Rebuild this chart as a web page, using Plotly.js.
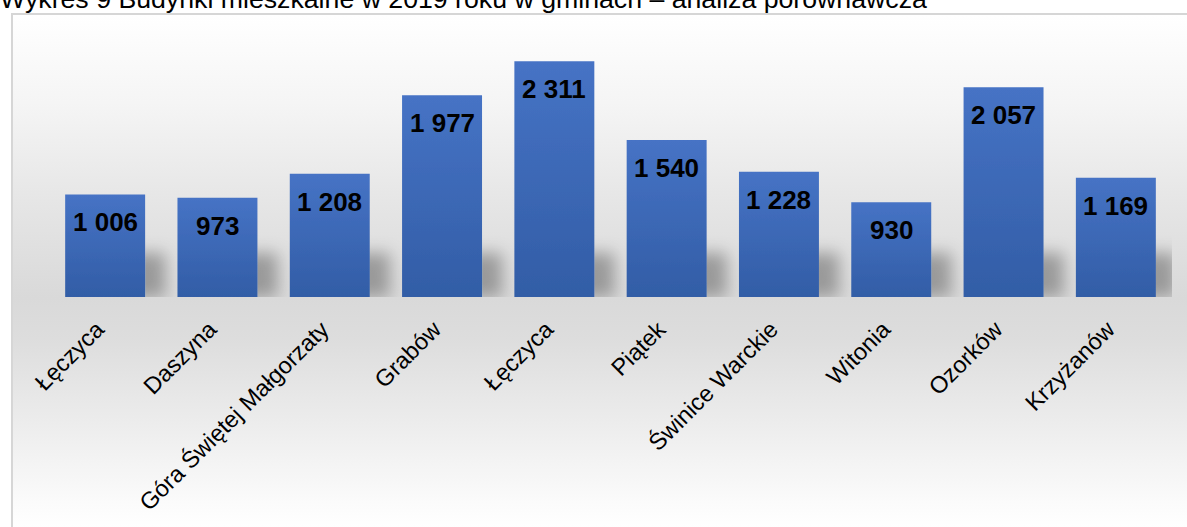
<!DOCTYPE html>
<html><head><meta charset="utf-8">
<script src="https://cdn.plot.ly/plotly-3.0.1.min.js"></script>
<style>
html,body{margin:0;padding:0;width:1187px;height:527px;overflow:hidden;background:#fff;}
#frame{position:absolute;left:11px;top:13px;width:1200px;height:514px;border-left:2px solid #d6d6d6;border-top:2px solid #d6d6d6;
background:linear-gradient(to bottom,#ffffff 0%,#f5f5f5 17%,#e6e6e6 36%,#d9d9d9 55%,#dddddd 63%,#ebebeb 78%,#fbfbfb 95%,#ffffff 100%);}
#chart{position:absolute;left:0;top:0;width:1187px;height:527px;}
</style></head>
<body>
<div id="frame"></div>
<div id="chart"></div>
<script>
var titleText = 'Wykres 9 Budynki mieszkalne w 2019 roku w gminach – analiza porównawcza';
var categories = ['Łęczyca','Daszyna','Góra Świętej Małgorzaty','Grabów','Łęczyca','Piątek','Świnice Warckie','Witonia','Ozorków','Krzyżanów'];
var values = [1006, 973, 1208, 1977, 2311, 1540, 1228, 930, 2057, 1169];

function fmt(v){ return String(v).replace(/\B(?=(\d{3})+(?!\d))/g, ' '); }
var positions = categories.map(function(c,i){return i;});
var FONT = 'Liberation Sans, Arial, sans-serif';
var LABEL_NUDGE = 0.07; // small left nudge of rotated tick labels

var trace = {
  type:'bar', x: positions, y: values,
  marker:{color:'#3c68b6', line:{width:0}},
  hoverinfo:'none'
};

var annotations = values.map(function(v,i){
  return {x: positions[i], y: v, xref:'x', yref:'y', text: fmt(v), showarrow:false,
    yanchor:'middle', yshift:-28, font:{family:FONT, size:26, color:'#000', weight:'bold'}};
});

var layout = {
  width:1187, height:527,
  margin:{l:49, r:15, t:42, b:230},
  paper_bgcolor:'rgba(0,0,0,0)', plot_bgcolor:'rgba(0,0,0,0)',
  title:{text:titleText, font:{family:FONT, size:26.7, color:'#000'}, x:0, xref:'container', xanchor:'left',
         y:1-8/527, yref:'container', yanchor:'bottom', pad:{t:0,b:0,l:0,r:0}},
  xaxis:{range:[-0.5, categories.length-0.5], tickvals:positions.map(function(p){return p-LABEL_NUDGE;}), ticktext:categories, tickangle:-45,
         tickfont:{family:FONT, size:23.5, color:'#000'}, showgrid:false, zeroline:false, showline:false,
         ticks:'', ticklabelstandoff:13, fixedrange:true},
  yaxis:{range:[0,2500], visible:false, fixedrange:true},
  bargap:0.288,
  showlegend:false,
  annotations:annotations
};

var gd = document.getElementById('chart');
Plotly.newPlot(gd, [trace], layout, {staticPlot:true}).then(function(){
  var ns='http://www.w3.org/2000/svg';
  var svg = gd.querySelector('svg.main-svg');
  var defs = svg.querySelector('defs') || svg.insertBefore(document.createElementNS(ns,'defs'), svg.firstChild);
  var lg = document.createElementNS(ns,'linearGradient');
  lg.setAttribute('id','barGrad'); lg.setAttribute('x1','0'); lg.setAttribute('y1','0'); lg.setAttribute('x2','0'); lg.setAttribute('y2','1');
  [['0','#4673c5'],['1','#325da6']].forEach(function(s){
    var st=document.createElementNS(ns,'stop'); st.setAttribute('offset',s[0]); st.setAttribute('stop-color',s[1]); lg.appendChild(st);
  });
  defs.appendChild(lg);
  var fl = gd._fullLayout; var ph = fl._size.h, pw = fl._size.w;
  var f = document.createElementNS(ns,'filter');
  f.setAttribute('id','barShadow'); f.setAttribute('filterUnits','userSpaceOnUse');
  f.setAttribute('x','-20'); f.setAttribute('y','-20'); f.setAttribute('width', pw+80); f.setAttribute('height', ph+40);
  f.innerHTML = '<feOffset in="SourceAlpha" dx="20" dy="0" y="'+(ph-44)+'" height="44" result="off"/>'+
    '<feGaussianBlur in="off" stdDeviation="8" y="-20" height="'+(ph+21)+'" result="blur"/>'+
    '<feColorMatrix in="blur" type="matrix" values="0 0 0 0 0  0 0 0 0 0  0 0 0 0 0  0 0 0 0.3 0" result="sh"/>'+
    '<feMerge><feMergeNode in="sh"/><feMergeNode in="SourceGraphic"/></feMerge>';
  defs.appendChild(f);
  gd.querySelectorAll('.barlayer .point path').forEach(function(p){ p.style.fill='url(#barGrad)'; });
  var bl = gd.querySelector('.barlayer'); if(bl) bl.setAttribute('filter','url(#barShadow)');
});
</script>
</body></html>
